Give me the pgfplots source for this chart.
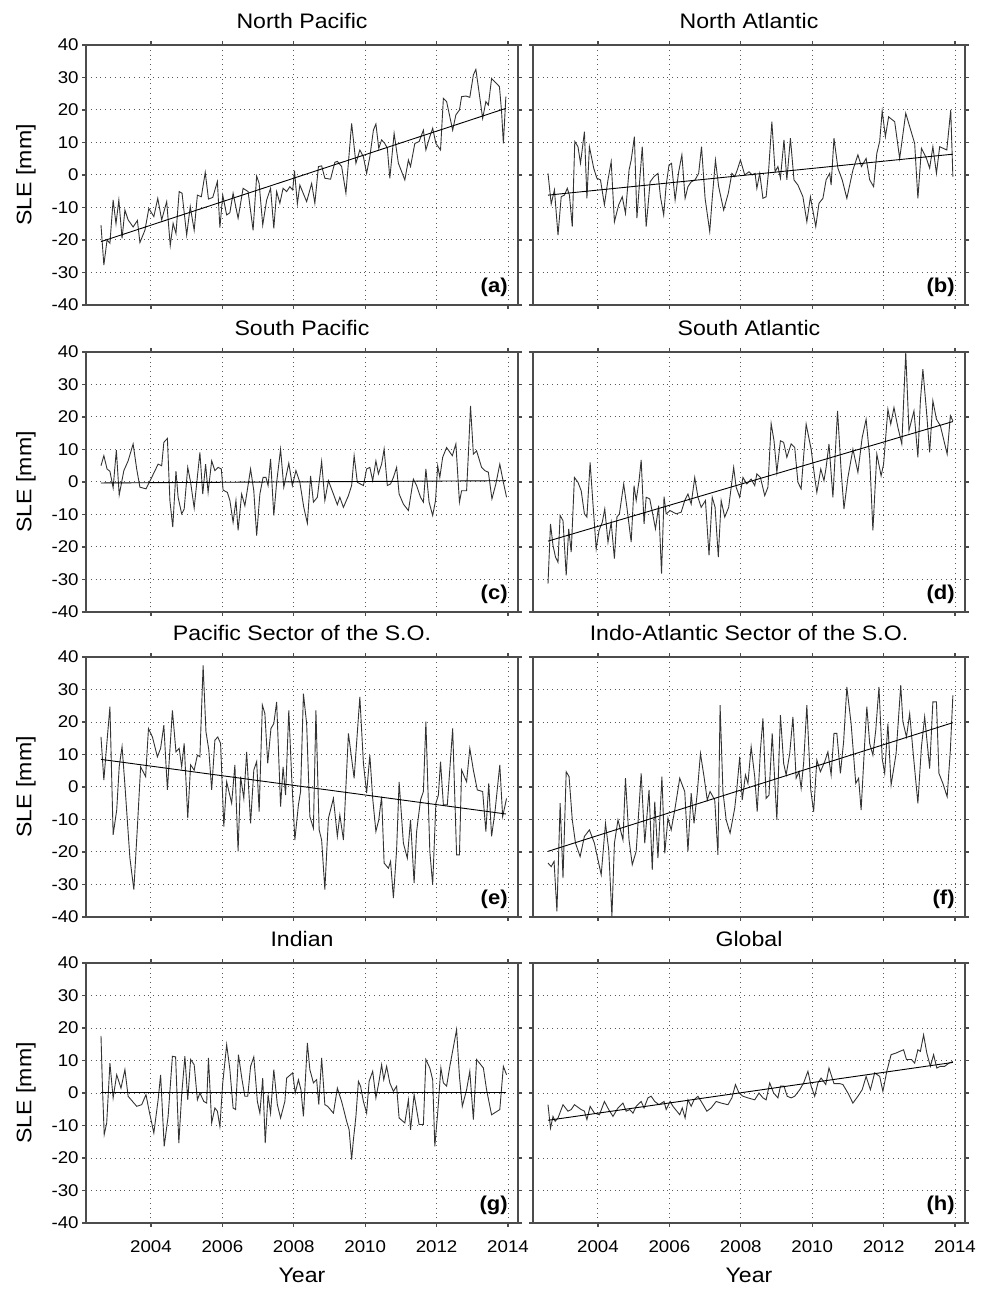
\documentclass[border=0pt]{standalone}
\usepackage{fontspec}
\setmainfont{Liberation Sans}[FakeStretch=1.1]
\usepackage{pgfplots}
\usepackage{pgfplotstable}
\pgfplotsset{compat=1.18}

% Monthly sea level equivalent anomalies [mm] per ocean basin
\pgfplotstableread{
t v
2002.60 -15.4
2002.68 -27.7
2002.77 -20
2002.85 -21
2002.94 -7.7
2003.02 -15
2003.10 -7.7
2003.19 -19.5
2003.27 -10.8
2003.36 -13.8
2003.50 -16
2003.62 -14
2003.69 -20.8
2003.83 -17
2003.94 -10.3
2004.08 -12.8
2004.19 -7.2
2004.30 -13.8
2004.44 -8.2
2004.54 -21.7
2004.62 -14.9
2004.70 -18
2004.79 -5.1
2004.87 -5.6
2005.00 -18.5
2005.10 -9.7
2005.21 -17
2005.30 -6.2
2005.41 -6.7
2005.52 0.8
2005.61 -7.4
2005.73 -6.9
2005.86 -2
2005.93 -16.2
2006.01 -6.2
2006.12 -12.3
2006.21 -11.6
2006.30 -5.6
2006.44 -13.3
2006.58 -4.1
2006.72 -5.1
2006.86 -17
2006.96 -0.3
2007.03 -2.6
2007.13 -15.4
2007.24 -7.7
2007.35 -4.1
2007.44 -16.4
2007.52 -5.1
2007.61 -8.7
2007.70 -4.1
2007.80 -5.1
2007.89 -3.6
2007.97 -4.6
2008.02 1.3
2008.10 -8.9
2008.17 -3.1
2008.36 -8.2
2008.50 -2.6
2008.59 -8.7
2008.69 2.6
2008.78 2.8
2008.87 -1
2009.03 -1.3
2009.15 3.9
2009.22 4.2
2009.34 2.6
2009.46 -5.6
2009.62 15.9
2009.74 3.6
2009.85 7.7
2009.95 5.6
2010.04 0.5
2010.13 5.6
2010.23 13.8
2010.30 15.7
2010.38 8.2
2010.46 10.8
2010.55 9.7
2010.62 8.2
2010.69 -1
2010.81 12.8
2010.93 3.6
2011.11 -1.5
2011.21 4.6
2011.27 2.6
2011.39 9.7
2011.51 10.3
2011.63 13.8
2011.70 7.7
2011.81 11.8
2011.89 14.4
2011.98 9.7
2012.11 7.7
2012.19 23.6
2012.28 22.6
2012.45 13.8
2012.54 18.5
2012.64 20
2012.70 24.1
2012.82 24.3
2012.93 23.9
2013.03 30.8
2013.10 32.5
2013.18 26.2
2013.29 17.4
2013.38 22.6
2013.45 21.5
2013.54 29.7
2013.76 27.2
2013.82 19.5
2013.87 9.7
2013.94 24.1
}\tabNP

\pgfplotstableread{
t v
2002.60 0.5
2002.69 -8.9
2002.78 -4.6
2002.88 -18.5
2002.97 -6.7
2003.06 -6.2
2003.14 -4.1
2003.20 -6.2
2003.28 -15.9
2003.35 10.3
2003.44 8.7
2003.51 3.6
2003.62 13.3
2003.69 -7.2
2003.76 8.7
2003.88 2.1
2003.97 -1.0
2004.07 -1.5
2004.18 -9.2
2004.28 -1.5
2004.37 4.1
2004.46 -14.4
2004.58 -9.2
2004.68 -6.7
2004.77 -11.8
2004.87 1.5
2004.93 4.6
2005.02 11.8
2005.09 -13.3
2005.17 -1.5
2005.24 8.7
2005.35 -15.9
2005.46 -2.1
2005.57 -0.5
2005.68 0.5
2005.75 -6.7
2005.84 -12.3
2005.91 -3.1
2005.99 3.1
2006.06 3.6
2006.16 -7.7
2006.26 1.0
2006.35 6.2
2006.44 -7.2
2006.52 -3.6
2006.61 -2.1
2006.72 -1.5
2006.82 0.5
2006.90 8.7
2007.00 -7.2
2007.13 -17.4
2007.20 -7.2
2007.29 4.6
2007.38 -3.6
2007.52 -10.8
2007.65 -5.6
2007.75 0.5
2007.83 -0.5
2007.90 1.5
2007.99 4.6
2008.11 0
2008.23 1.0
2008.32 0
2008.40 0.5
2008.45 -4.1
2008.53 0.5
2008.62 -7.2
2008.71 -6.7
2008.78 1.5
2008.87 16.4
2008.96 1.0
2009.04 2.6
2009.11 -1.0
2009.21 10.8
2009.29 -1.5
2009.39 11.3
2009.49 -1.5
2009.60 -3.1
2009.74 -6.7
2009.85 -14.4
2009.95 -6.7
2010.10 -15.9
2010.19 -8.7
2010.30 -7.2
2010.39 -1.5
2010.49 0.5
2010.53 -3.1
2010.61 11.3
2010.72 2.1
2010.84 -1.5
2010.97 -7.2
2011.14 1.5
2011.28 6.2
2011.38 2.6
2011.51 5.1
2011.61 -1.5
2011.72 -3.6
2011.81 6.7
2011.89 10.3
2011.96 19.7
2012.05 11.8
2012.14 17.9
2012.31 16.4
2012.45 5.1
2012.62 19.0
2012.87 9.7
2012.96 -7.2
2013.06 8.2
2013.20 5.1
2013.29 2.1
2013.38 8.7
2013.48 0.5
2013.57 8.7
2013.77 7.7
2013.88 20.0
2013.94 -0.5
}\tabNA

\pgfplotstableread{
t v
2002.60 5.0
2002.68 8.1
2002.77 4.0
2002.85 3.3
2002.94 -1.8
2003.03 9.8
2003.11 -4.0
2003.24 3.5
2003.36 6.5
2003.50 11.7
2003.60 4.0
2003.69 -1.6
2003.86 -2.1
2004.02 1.4
2004.20 5.5
2004.30 5.0
2004.36 12.2
2004.46 13.4
2004.53 -5.7
2004.61 -13.9
2004.70 3.3
2004.76 -4.7
2004.86 -9.8
2004.93 -8.3
2005.03 4.5
2005.11 -0.1
2005.21 -8.0
2005.37 9.1
2005.45 -3.7
2005.53 5.5
2005.60 -3.2
2005.70 6.5
2005.79 3.5
2005.88 4.5
2005.97 4.0
2006.02 -2.5
2006.14 -3.2
2006.21 -5.7
2006.30 -12.4
2006.38 -5.7
2006.44 -14.9
2006.54 -3.7
2006.63 -7.3
2006.79 4.0
2006.88 -2.7
2006.96 -16.5
2007.05 -3.7
2007.14 1.4
2007.22 1.4
2007.28 -1.1
2007.35 7.1
2007.44 -10.3
2007.52 -0.1
2007.63 10.1
2007.72 -1.6
2007.86 5.8
2007.96 -1.1
2008.06 3.5
2008.17 -0.1
2008.28 -7.8
2008.38 -12.7
2008.47 1.9
2008.55 -6.2
2008.66 -4.7
2008.78 6.3
2008.87 -5.7
2008.97 0.4
2009.11 -3.7
2009.22 -7.0
2009.29 -4.7
2009.39 -7.8
2009.53 -4.2
2009.62 -1.1
2009.69 8.1
2009.78 -0.1
2009.95 -1.1
2010.04 4.0
2010.13 4.5
2010.21 0.4
2010.30 6.5
2010.37 2.5
2010.46 5.5
2010.53 10.1
2010.62 -1.1
2010.71 -0.6
2010.79 1.4
2010.88 4.5
2010.95 -3.7
2011.07 -6.8
2011.21 -8.8
2011.35 0.9
2011.44 -1.1
2011.55 -4.7
2011.63 -6.2
2011.70 4.0
2011.79 -6.2
2011.89 -10.3
2011.97 -5.7
2012.03 5.0
2012.09 1.4
2012.17 7.6
2012.28 10.6
2012.44 8.1
2012.54 11.7
2012.64 -6.2
2012.70 -2.7
2012.84 -2.7
2012.89 8.6
2012.95 23.4
2013.03 8.6
2013.12 9.6
2013.26 4.5
2013.35 3.5
2013.45 3.0
2013.55 -5.2
2013.66 -0.6
2013.77 5.5
2013.87 -0.1
2013.96 -4.7
}\tabSP

\pgfplotstableread{
t v
2002.60 -31.3
2002.67 -12.9
2002.74 -19.5
2002.81 -23.1
2002.88 -24.7
2002.94 -10.3
2003.02 -11.9
2003.11 -28.7
2003.18 -14.4
2003.25 -21.6
2003.34 1.4
2003.44 -0.1
2003.53 -2.7
2003.62 -9.8
2003.69 -10.8
2003.78 6.0
2003.86 -6.8
2003.95 -20.6
2004.03 -14.9
2004.12 -12.4
2004.19 -8.3
2004.28 -18.5
2004.37 -12.4
2004.46 -23.6
2004.53 -10.8
2004.60 -9.8
2004.72 -0.6
2004.81 -7.8
2004.93 -18.5
2005.01 -1.1
2005.07 -5.7
2005.15 0.4
2005.21 6.8
2005.29 -12.9
2005.35 -4.7
2005.45 -5.2
2005.54 -10.3
2005.61 -14.4
2005.70 -7.3
2005.78 -28.2
2005.85 -4.5
2005.91 -9.8
2006.02 -8.8
2006.19 -9.8
2006.33 -9.3
2006.43 -5.7
2006.52 -3.7
2006.61 -6.8
2006.71 1.4
2006.80 -4.7
2006.89 -7.8
2007.01 -5.7
2007.11 -22.6
2007.20 -4.7
2007.28 -7.8
2007.37 -23.1
2007.45 -5.7
2007.55 -10.8
2007.66 -7.8
2007.80 4.5
2007.87 -1.6
2007.97 -4.7
2008.06 1.4
2008.17 -0.6
2008.29 0.9
2008.39 -1.1
2008.45 2.5
2008.55 1.4
2008.67 -4.2
2008.76 -1.6
2008.85 18.0
2008.93 12.7
2009.01 3.0
2009.11 12.7
2009.20 12.2
2009.29 7.6
2009.41 11.7
2009.51 10.6
2009.60 -0.1
2009.69 -2.1
2009.83 17.8
2009.97 10.1
2010.07 1.4
2010.13 -3.2
2010.24 4.0
2010.33 0.4
2010.39 4.5
2010.47 11.7
2010.58 -4.7
2010.71 21.9
2010.81 3.5
2010.89 -8.3
2011.00 1.4
2011.14 10.1
2011.28 3.0
2011.40 13.7
2011.51 19.3
2011.61 7.6
2011.70 -14.9
2011.81 8.6
2011.93 1.9
2012.00 5.5
2012.12 22.4
2012.20 17.8
2012.29 22.9
2012.40 16.8
2012.51 11.7
2012.62 39.8
2012.71 15.8
2012.85 21.9
2012.96 7.6
2013.03 25.0
2013.10 34.7
2013.20 21.9
2013.29 9.1
2013.38 25.0
2013.48 19.3
2013.59 17.3
2013.78 8.6
2013.87 20.4
2013.94 18.8
}\tabSA

\pgfplotstableread{
t v
2002.60 15.4
2002.68 2.1
2002.74 10.3
2002.85 24.7
2002.94 -14.7
2003.04 -7.1
2003.11 6.2
2003.19 12.4
2003.27 0.6
2003.41 -21.9
2003.52 -31.6
2003.62 -12.2
2003.71 6.2
2003.85 3.2
2003.93 18.0
2004.04 15.4
2004.18 9.3
2004.27 11.9
2004.36 19.0
2004.46 -0.9
2004.53 11.4
2004.60 23.6
2004.70 10.8
2004.79 11.9
2004.86 6.2
2004.93 13.4
2005.03 -9.6
2005.11 6.8
2005.21 5.2
2005.30 9.8
2005.37 9.3
2005.46 37.4
2005.54 17.0
2005.62 11.4
2005.70 -0.9
2005.79 14.4
2005.87 15.4
2005.95 13.4
2006.04 -12.2
2006.12 1.6
2006.26 -5.0
2006.35 6.8
2006.44 -19.8
2006.51 3.2
2006.60 -3.5
2006.68 10.8
2006.79 -11.2
2006.88 5.2
2006.96 7.8
2007.03 -7.6
2007.12 25.2
2007.19 22.6
2007.27 7.3
2007.36 18.0
2007.44 19.5
2007.52 26.2
2007.63 -6.0
2007.70 6.2
2007.77 -2.5
2007.86 23.6
2007.94 3.2
2008.03 -16.3
2008.13 -5.5
2008.19 -1.4
2008.27 28.7
2008.36 19.5
2008.45 -9.1
2008.55 -12.7
2008.62 23.6
2008.71 -13.2
2008.78 -16.3
2008.87 -31.6
2008.97 -9.6
2009.11 -3.5
2009.22 -15.2
2009.29 -8.6
2009.39 -16.3
2009.53 16.5
2009.69 2.7
2009.85 27.7
2009.95 7.3
2010.04 -1.9
2010.13 9.8
2010.21 -3.5
2010.30 -13.7
2010.38 -10.1
2010.46 -3.0
2010.53 -23.4
2010.65 -25.0
2010.71 -22.9
2010.79 -34.2
2010.88 -19.3
2010.95 1.6
2011.07 -17.3
2011.18 -21.9
2011.27 -10.1
2011.37 -29.6
2011.44 -13.7
2011.55 -4.0
2011.63 -1.4
2011.70 20.1
2011.81 -19.8
2011.89 -30.1
2011.98 -5.0
2012.05 -2.5
2012.11 7.8
2012.19 -5.5
2012.30 -5.5
2012.45 18.0
2012.56 -20.9
2012.64 -20.9
2012.70 5.2
2012.84 1.6
2012.93 11.9
2013.03 5.2
2013.14 -0.9
2013.29 -1.4
2013.38 -13.7
2013.46 1.1
2013.54 -15.2
2013.64 -7.1
2013.77 6.8
2013.85 -9.1
2013.96 -3.5
}\tabPSO

\pgfplotstableread{
t v
2002.60 -23.4
2002.69 -24.5
2002.77 -22.9
2002.85 -38.3
2002.94 -5.0
2003.02 -28.0
2003.11 4.7
2003.19 3.2
2003.28 -10.1
2003.37 -17.3
2003.50 -21.4
2003.62 -15.2
2003.76 -13.2
2003.90 -17.3
2004.09 -27.0
2004.21 -11.2
2004.30 -19.3
2004.39 -39.8
2004.46 -17.3
2004.56 -10.1
2004.70 -16.3
2004.77 2.7
2004.87 -16.3
2004.96 -23.9
2005.07 -19.8
2005.21 4.2
2005.31 -17.3
2005.43 -0.9
2005.52 -25.5
2005.59 -4.5
2005.68 -21.9
2005.79 3.2
2005.87 -20.4
2005.96 -9.6
2006.05 -13.2
2006.15 -7.1
2006.29 2.7
2006.43 -1.4
2006.52 -19.8
2006.61 -1.9
2006.69 -11.2
2006.78 -1.9
2006.87 10.3
2006.97 3.2
2007.06 -4.0
2007.14 -1.4
2007.27 -4.0
2007.36 -20.9
2007.42 25.2
2007.50 -1.4
2007.59 -10.1
2007.70 -14.2
2007.83 -6.5
2007.89 -0.4
2007.97 9.3
2008.04 -4.0
2008.13 3.7
2008.20 1.1
2008.29 12.4
2008.39 3.2
2008.46 -7.6
2008.55 11.4
2008.62 21.1
2008.71 -3.5
2008.79 -2.5
2008.88 16.5
2009.01 -10.1
2009.11 22.1
2009.20 7.3
2009.27 3.7
2009.37 10.3
2009.46 21.6
2009.55 2.7
2009.63 4.7
2009.69 -0.4
2009.76 7.3
2009.85 25.2
2009.96 -0.9
2010.04 -7.6
2010.13 8.3
2010.23 4.7
2010.35 7.8
2010.44 10.8
2010.53 3.7
2010.61 16.5
2010.69 16.5
2010.79 4.2
2010.88 13.9
2010.97 30.8
2011.09 19.5
2011.22 1.1
2011.30 2.7
2011.37 -7.1
2011.47 13.4
2011.53 24.7
2011.61 13.4
2011.70 9.8
2011.78 17.5
2011.87 30.8
2011.96 8.8
2012.03 4.2
2012.12 19.5
2012.21 0.6
2012.35 10.3
2012.48 31.3
2012.54 20.1
2012.64 15.4
2012.73 22.6
2012.82 11.4
2012.96 -5.0
2013.06 12.4
2013.15 21.6
2013.29 5.7
2013.38 26.2
2013.48 26.2
2013.55 4.2
2013.66 1.1
2013.78 -3.0
2013.87 11.4
2013.94 28.2
}\tabIASO

\pgfplotstableread{
t v
2002.60 17.6
2002.64 2.1
2002.69 -12.8
2002.76 -9.2
2002.85 9.2
2002.94 -1.5
2003.04 5.6
2003.16 1.5
2003.27 7.2
2003.36 -1.0
2003.60 -4.1
2003.74 -3.6
2003.86 -0.5
2003.95 -5.6
2004.08 -12.3
2004.20 -2.1
2004.27 5.6
2004.37 -16.4
2004.48 -7.2
2004.60 11.3
2004.69 11.1
2004.78 -15.4
2004.86 -0.5
2004.95 11.3
2005.03 -2.1
2005.11 10.3
2005.21 8.7
2005.30 -2.1
2005.37 0
2005.48 -2.6
2005.56 -3.1
2005.61 10.8
2005.70 -9.2
2005.79 -4.6
2005.86 -5.6
2005.93 -10.3
2006.01 3.1
2006.12 14.9
2006.21 7.2
2006.30 -4.6
2006.37 -5.1
2006.45 11.8
2006.55 4.1
2006.63 -1.0
2006.71 -1.0
2006.79 8.2
2006.88 11.1
2006.98 -2.6
2007.05 -6.2
2007.13 4.6
2007.20 -15.4
2007.28 -0.5
2007.35 -6.2
2007.44 7.2
2007.54 -3.6
2007.63 -7.7
2007.75 -2.6
2007.80 4.6
2007.97 6.2
2008.04 0
2008.13 4.1
2008.20 1.0
2008.27 -7.2
2008.38 15.4
2008.45 7.2
2008.55 3.1
2008.64 4.1
2008.70 -3.6
2008.78 10.8
2008.87 -3.6
2008.95 -4.1
2009.11 -6.2
2009.22 1.5
2009.34 -2.6
2009.48 -8.7
2009.55 -11.3
2009.62 -20.5
2009.67 -14.4
2009.74 -7.2
2009.81 3.6
2009.87 2.1
2009.95 -2.6
2010.04 -6.2
2010.11 3.6
2010.21 6.7
2010.30 -1.5
2010.38 3.1
2010.46 8.7
2010.52 4.1
2010.60 8.2
2010.69 3.1
2010.79 0.5
2010.88 2.1
2010.95 -7.7
2011.11 -9.2
2011.21 -2.1
2011.27 -11.3
2011.37 -0.5
2011.51 -9.7
2011.63 -9.7
2011.70 10.3
2011.81 7.7
2011.89 4.1
2011.95 -16.4
2012.03 -6.2
2012.12 7.7
2012.19 3.1
2012.28 2.1
2012.37 8.2
2012.56 19.5
2012.64 5.1
2012.72 -4.1
2012.84 1.0
2012.93 6.7
2013.03 -8.2
2013.12 10.3
2013.31 7.7
2013.40 1.0
2013.54 -6.7
2013.77 -5.1
2013.87 8.2
2013.96 5.6
}\tabIND

\pgfplotstableread{
t v
2002.60 -3.6
2002.67 -10.8
2002.74 -7.2
2002.80 -8.7
2002.88 -7.7
2003.02 -3.6
2003.16 -5.6
2003.25 -5.1
2003.34 -3.6
2003.53 -5.1
2003.62 -5.6
2003.69 -8.2
2003.78 -4.1
2003.90 -6.2
2004.04 -6.7
2004.18 -2.6
2004.30 -5.1
2004.42 -7.2
2004.56 -4.6
2004.70 -3.1
2004.79 -5.6
2004.89 -5.1
2004.98 -6.2
2005.07 -4.1
2005.21 -2.6
2005.29 -4.6
2005.40 -1.5
2005.49 -1.0
2005.59 -2.6
2005.71 -3.6
2005.85 -2.6
2005.91 -5.1
2006.02 -2.6
2006.10 -4.1
2006.21 -5.6
2006.29 -6.7
2006.36 -4.6
2006.44 -7.7
2006.52 -2.1
2006.61 -4.1
2006.69 -2.1
2006.80 -1.0
2006.89 -2.6
2007.05 -5.6
2007.17 -4.6
2007.31 -2.6
2007.45 -3.1
2007.64 -3.6
2007.75 -1.5
2007.85 2.6
2007.95 0
2008.06 -1.0
2008.20 -1.5
2008.39 -2.1
2008.51 0
2008.62 -1.5
2008.71 -2.1
2008.81 3.1
2008.92 0
2009.04 -1.5
2009.11 2.1
2009.21 2.1
2009.30 -1.0
2009.41 -1.5
2009.51 -1.0
2009.65 1.0
2009.76 3.1
2009.88 6.7
2009.97 2.1
2010.07 -1.0
2010.16 3.1
2010.25 4.6
2010.38 2.6
2010.47 7.7
2010.61 2.9
2010.77 2.9
2010.86 2.6
2011.00 0
2011.14 -3.1
2011.28 -1.0
2011.40 1.0
2011.51 5.1
2011.63 1.0
2011.75 6.2
2011.89 5.1
2011.98 0.5
2012.09 6.7
2012.21 11.8
2012.35 12.3
2012.45 12.8
2012.56 13.3
2012.64 10.3
2012.78 10.3
2012.87 9.2
2012.96 13.3
2013.03 12.8
2013.12 17.9
2013.21 12.3
2013.31 8.2
2013.40 11.8
2013.49 7.7
2013.59 8.2
2013.71 8.2
2013.83 9.2
2013.94 9.7
}\tabGL

\pgfplotsset{
  sle panel/.style={
    scale only axis, width=216pt, height=130pt,
    anchor=south west,
    xmin=2002.18, xmax=2014.28, ymin=-40, ymax=40,
    xtick={2004,2006,2008,2010,2012,2014},
    ytick={-40,-30,-20,-10,0,10,20,30,40},
    xticklabels={}, yticklabels={},
    tick align=outside, major tick length=2pt,
    grid=major,
    major grid style={black!65, dotted, line width=0.5pt},
    axis line style={black!70, line width=0.6pt},
    tick style={black!70, line width=0.6pt},
    every axis title/.style={at={(0.5,1)}, anchor=base, yshift=8.4pt,
      inner sep=0pt, font=\fontsize{10.5}{12}\selectfont},
    tick label style={font=\fontsize{8.5}{10}\selectfont, inner sep=0pt},
    xticklabel style={anchor=north, yshift=-6.5pt},
    yticklabel style={anchor=east, xshift=-1.5pt},
  },
  left col/.style={
    yticklabels={-40,-30,-20,-10,0,10,20,30,40},
    ylabel={SLE [mm]},
    every axis y label/.style={at={(axis description cs:-0.1265,0.5)},
      rotate=90, anchor=base, inner sep=0pt,
      font=\fontsize{10.5}{12}\selectfont},
  },
  bottom row/.style={
    xticklabels={2004,2006,2008,2010,2012,2014},
    xlabel={Year},
    every axis x label/.style={at={(axis description cs:0.5,0)},
      anchor=base, yshift=-30pt, inner sep=0pt,
      font=\fontsize{10.5}{12}\selectfont},
  },
  series/.style={black!80, line width=0.45pt, mark=none},
  trend/.style={black, line width=0.45pt, mark=none},
}

\newcommand{\panelletter}[1]{%
  \node[anchor=base east, inner sep=0pt, xshift=-5pt, yshift=6pt,
        font=\bfseries\fontsize{10}{12}\selectfont] at (rel axis cs:1,0) {#1};}

\begin{document}
\begin{tikzpicture}
\useasboundingbox (0,0) rectangle (490.5pt,644.5pt);

% Row 1
\begin{axis}[sle panel, left col, at={(43pt,492pt)}, title={North Pacific}]
  \addplot[series] table[x=t,y=v] {\tabNP};
  \addplot[trend] coordinates {(2002.60,-20.5) (2013.94,20.5)};
  \panelletter{(a)}
\end{axis}
\begin{axis}[sle panel, at={(266.5pt,492pt)}, title={North Atlantic}]
  \addplot[series] table[x=t,y=v] {\tabNA};
  \addplot[trend] coordinates {(2002.60,-6.2) (2013.94,6.4)};
  \panelletter{(b)}
\end{axis}

% Row 2
\begin{axis}[sle panel, left col, at={(43pt,338.5pt)}, title={South Pacific}]
  \addplot[series] table[x=t,y=v] {\tabSP};
  \addplot[trend] coordinates {(2002.60,-0.3) (2013.94,0.4)};
  \panelletter{(c)}
\end{axis}
\begin{axis}[sle panel, at={(266.5pt,338.5pt)}, title={South Atlantic}]
  \addplot[series] table[x=t,y=v] {\tabSA};
  \addplot[trend] coordinates {(2002.60,-18.2) (2013.94,18.6)};
  \panelletter{(d)}
\end{axis}

% Row 3
\begin{axis}[sle panel, left col, at={(43pt,186pt)}, title={Pacific Sector of the S.O.}]
  \addplot[series] table[x=t,y=v] {\tabPSO};
  \addplot[trend] coordinates {(2002.60,8.5) (2013.94,-8.3)};
  \panelletter{(e)}
\end{axis}
\begin{axis}[sle panel, at={(266.5pt,186pt)}, title={Indo-Atlantic Sector of the S.O.}]
  \addplot[series] table[x=t,y=v] {\tabIASO};
  \addplot[trend] coordinates {(2002.60,-19.8) (2013.94,19.8)};
  \panelletter{(f)}
\end{axis}

% Row 4
\begin{axis}[sle panel, left col, bottom row, at={(43pt,33pt)}, title={Indian}]
  \addplot[series] table[x=t,y=v] {\tabIND};
  \addplot[trend] coordinates {(2002.60,0.2) (2013.94,0.2)};
  \panelletter{(g)}
\end{axis}
\begin{axis}[sle panel, bottom row, at={(266.5pt,33pt)}, title={Global}]
  \addplot[series] table[x=t,y=v] {\tabGL};
  \addplot[trend] coordinates {(2002.60,-8.4) (2013.94,9.4)};
  \panelletter{(h)}
\end{axis}
\end{tikzpicture}
\end{document}
